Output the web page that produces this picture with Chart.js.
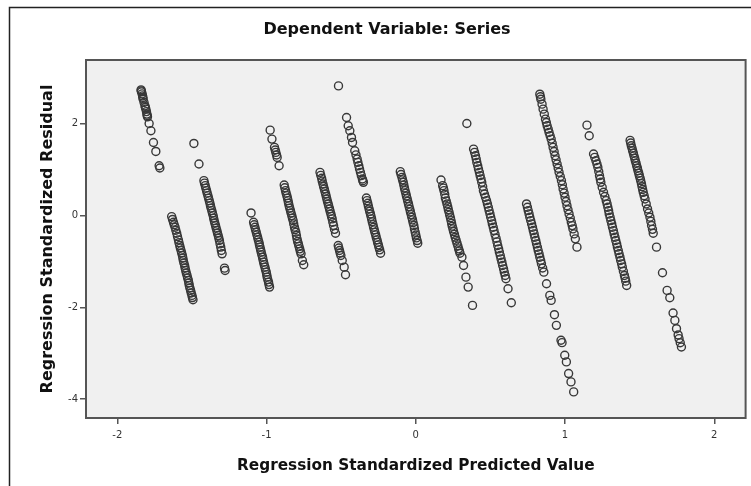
<!DOCTYPE html>
<html><head><meta charset="utf-8">
<script src="https://cdn.jsdelivr.net/npm/chart.js@4.4.0/dist/chart.umd.min.js"></script>
<style>html,body{margin:0;padding:0;background:#fff;overflow:hidden}canvas{display:block}</style>
</head><body>
<canvas id="c" width="751" height="486"></canvas>
<script>
const chartTitle = "Dependent Variable: Series";
const xAxisTitle = "Regression Standardized Predicted Value";
const yAxisTitle = "Regression Standardized Residual";
const xTicks = [-2, -1, 0, 1, 2];
const yTicks = [-4, -2, 0, 2];

// [standardized predicted, standardized residual]
const band01 = [[-1.841,2.74],[-1.838,2.696],[-1.831,2.609],[-1.827,2.537],[-1.815,2.391],[-1.809,2.32],[-1.802,2.211],[-1.798,2.152],[-1.787,2.007],[-1.775,1.848],[-1.758,1.593],[-1.742,1.398],[-1.72,1.087],[-1.715,1.037],
  [-1.84,2.718],[-1.834,2.652],[-1.829,2.573],[-1.821,2.464],[-1.812,2.356],[-1.805,2.266],[-1.8,2.18]];
const band02 = [[-1.636,-0.022],[-1.624,-0.145],[-1.613,-0.254],[-1.602,-0.384],[-1.591,-0.529],[-1.582,-0.652],[-1.573,-0.761],[-1.564,-0.87],[-1.558,-0.978],[-1.549,-1.087],[-1.542,-1.196],[-1.533,-1.304],[-1.524,-1.413],[-1.518,-1.522],[-1.509,-1.63],[-1.5,-1.739],[-1.493,-1.833],
  [-1.63,-0.084],[-1.619,-0.2],[-1.608,-0.319],[-1.597,-0.457],[-1.587,-0.59],[-1.578,-0.707],[-1.569,-0.816],[-1.561,-0.924],[-1.554,-1.033],[-1.546,-1.142],[-1.538,-1.25],[-1.529,-1.359],[-1.521,-1.468],[-1.514,-1.576],[-1.505,-1.685],[-1.497,-1.786]];
const band03 = [[-1.487,1.572],[-1.453,1.123],[-1.42,0.761],[-1.411,0.652],[-1.402,0.543],[-1.393,0.435],[-1.384,0.326],[-1.376,0.217],[-1.367,0.109],[-1.358,0],[-1.351,-0.109],[-1.342,-0.217],[-1.333,-0.326],[-1.324,-0.435],[-1.316,-0.543],[-1.307,-0.688],[-1.298,-0.833],[-1.282,-1.145],[-1.278,-1.196],
  [-1.416,0.707],[-1.407,0.598],[-1.398,0.489],[-1.389,0.381],[-1.38,0.272],[-1.372,0.163],[-1.363,0.055],[-1.355,-0.055],[-1.347,-0.163],[-1.338,-0.272],[-1.329,-0.381],[-1.32,-0.489],[-1.312,-0.616],[-1.303,-0.761]];
const band04 = [[-1.104,0.058],[-1.087,-0.145],[-1.078,-0.254],[-1.069,-0.362],[-1.06,-0.471],[-1.051,-0.58],[-1.044,-0.688],[-1.036,-0.797],[-1.027,-0.906],[-1.02,-1.014],[-1.011,-1.123],[-1.002,-1.232],[-0.996,-1.341],[-0.987,-1.449],[-0.98,-1.558],
  [-1.083,-0.2],[-1.074,-0.308],[-1.065,-0.417],[-1.056,-0.526],[-1.048,-0.634],[-1.04,-0.743],[-1.032,-0.852],[-1.024,-0.96],[-1.016,-1.069],[-1.007,-1.178],[-0.999,-1.287],[-0.992,-1.395],[-0.984,-1.504]];
const band05 = [[-0.976,1.862],[-0.964,1.667],[-0.947,1.486],[-0.938,1.377],[-0.929,1.268],[-0.916,1.087],[-0.942,1.43],[-0.933,1.32]];
const band06 = [[-0.882,0.667],[-0.873,0.543],[-0.864,0.435],[-0.856,0.326],[-0.849,0.217],[-0.84,0.109],[-0.831,0],[-0.822,-0.109],[-0.813,-0.254],[-0.804,-0.362],[-0.796,-0.507],[-0.787,-0.616],[-0.778,-0.725],[-0.769,-0.833],[-0.76,-0.978],[-0.751,-1.072],
  [-0.878,0.605],[-0.869,0.489],[-0.86,0.381],[-0.853,0.272],[-0.845,0.163],[-0.836,0.055],[-0.827,-0.055],[-0.818,-0.181],[-0.809,-0.308],[-0.8,-0.435],[-0.792,-0.562],[-0.783,-0.67],[-0.774,-0.779]];
const band07 = [[-0.642,0.942],[-0.631,0.812],[-0.622,0.688],[-0.613,0.58],[-0.604,0.471],[-0.596,0.362],[-0.587,0.254],[-0.578,0.145],[-0.569,0.036],[-0.56,-0.072],[-0.551,-0.217],[-0.538,-0.384],
  [-0.637,0.877],[-0.627,0.75],[-0.618,0.634],[-0.609,0.526],[-0.6,0.417],[-0.592,0.308],[-0.583,0.2],[-0.574,0.091],[-0.565,-0.018],[-0.556,-0.145],[-0.545,-0.3]];
const band08 = [[-0.52,-0.652],[-0.511,-0.761],[-0.502,-0.87],[-0.493,-0.978],[-0.48,-1.123],[-0.471,-1.29],[-0.516,-0.707],[-0.507,-0.816]];
const band09 = [[-0.518,2.826],[-0.464,2.138],[-0.453,1.957],[-0.442,1.848],[-0.431,1.703],[-0.424,1.594],[-0.409,1.413],[-0.393,1.232],[-0.382,1.087],[-0.371,0.942],[-0.358,0.797],[-0.351,0.725],
  [-0.401,1.323],[-0.388,1.16],[-0.377,1.015],[-0.365,0.87],[-0.355,0.761]];
const band10 = [[-0.331,0.384],[-0.322,0.268],[-0.313,0.145],[-0.304,0.036],[-0.296,-0.072],[-0.287,-0.196],[-0.278,-0.312],[-0.269,-0.42],[-0.26,-0.529],[-0.251,-0.638],[-0.242,-0.746],[-0.236,-0.819],
  [-0.327,0.326],[-0.318,0.207],[-0.309,0.091],[-0.3,-0.018],[-0.292,-0.134],[-0.283,-0.254],[-0.274,-0.366],[-0.265,-0.475],[-0.256,-0.584],[-0.247,-0.692]];
const band11 = [[-0.104,0.957],[-0.093,0.833],[-0.084,0.725],[-0.076,0.601],[-0.067,0.486],[-0.058,0.37],[-0.049,0.254],[-0.04,0.138],[-0.031,0.022],[-0.022,-0.094],[-0.013,-0.217],[-0.004,-0.362],[0.004,-0.486],[0.013,-0.601],
  [-0.099,0.895],[-0.089,0.779],[-0.08,0.663],[-0.072,0.544],[-0.063,0.428],[-0.054,0.312],[-0.045,0.196],[-0.036,0.08],[-0.027,-0.036],[-0.018,-0.156],[-0.009,-0.29],[0,-0.424],[0.009,-0.544]];
const band12 = [[0.169,0.775],[0.18,0.652],[0.189,0.543],[0.198,0.384],[0.209,0.254],[0.218,0.13],[0.227,0.014],[0.236,-0.109],[0.244,-0.232],[0.253,-0.348],[0.264,-0.471],[0.276,-0.601],[0.287,-0.725],[0.296,-0.819],[0.309,-0.906],[0.32,-1.087],[0.336,-1.341],[0.351,-1.558],[0.38,-1.957],
  [0.185,0.598],[0.194,0.464],[0.204,0.319],[0.214,0.192],[0.223,0.072],[0.232,-0.048],[0.24,-0.17],[0.249,-0.29],[0.259,-0.41],[0.27,-0.536],[0.282,-0.663],[0.292,-0.772]];
const band13 = [[0.342,2.007],[0.387,1.449],[0.4,1.304],[0.409,1.159],[0.42,1.014],[0.431,0.87],[0.442,0.725],[0.453,0.543],[0.467,0.399],[0.48,0.254],[0.491,0.109],[0.502,-0.036],[0.513,-0.181],[0.524,-0.326],[0.538,-0.493],[0.549,-0.652],[0.56,-0.797],[0.571,-0.942],[0.582,-1.087],[0.593,-1.232],[0.604,-1.377],[0.618,-1.594],[0.64,-1.899],
  [0.394,1.377],[0.405,1.232],[0.415,1.087],[0.426,0.942],[0.437,0.798],[0.448,0.634],[0.46,0.471],[0.474,0.327],[0.486,0.182],[0.497,0.037],[0.508,-0.109],[0.519,-0.254],[0.531,-0.41],[0.544,-0.573],[0.555,-0.725],[0.566,-0.87],[0.577,-1.015],[0.588,-1.16],[0.599,-1.305]];
const band14 = [[0.742,0.254],[0.753,0.109],[0.764,-0.036],[0.776,-0.181],[0.787,-0.326],[0.798,-0.471],[0.809,-0.616],[0.82,-0.761],[0.831,-0.906],[0.842,-1.051],[0.858,-1.232],[0.876,-1.486],[0.898,-1.739],[0.907,-1.848],[0.929,-2.159],[0.942,-2.391],[0.973,-2.717],[0.98,-2.768],[0.998,-3.043],[1.009,-3.188],[1.024,-3.442],[1.04,-3.623],[1.058,-3.841],
  [0.748,0.182],[0.759,0.037],[0.77,-0.109],[0.782,-0.254],[0.793,-0.399],[0.804,-0.544],[0.815,-0.689],[0.826,-0.834],[0.837,-0.979],[0.85,-1.142]];
const band15 = [[0.831,2.645],[0.838,2.536],[0.853,2.319],[0.869,2.101],[0.88,1.957],[0.893,1.812],[0.907,1.667],[0.92,1.486],[0.933,1.304],[0.947,1.123],[0.96,0.942],[0.976,0.761],[0.987,0.58],[1.0,0.399],[1.013,0.217],[1.027,0.036],[1.042,-0.145],[1.053,-0.29],[1.069,-0.507],[1.08,-0.688],
  [0.835,2.59],[0.846,2.428],[0.861,2.21],[0.875,2.029],[0.887,1.885],[0.9,1.74],[0.914,1.577],[0.927,1.395],[0.94,1.214],[0.954,1.033],[0.968,0.852],[0.982,0.671],[0.994,0.49],[1.007,0.308],[1.02,0.127],[1.035,-0.055],[1.048,-0.218],[1.061,-0.399]];
const band16 = [[1.147,1.971],[1.162,1.739],[1.191,1.341],[1.207,1.196],[1.22,1.051],[1.231,0.87],[1.24,0.725],[1.258,0.507],[1.276,0.326],[1.287,0.181],[1.296,0.036],[1.307,-0.109],[1.318,-0.254],[1.329,-0.399],[1.34,-0.543],[1.351,-0.688],[1.362,-0.833],[1.373,-0.978],[1.384,-1.123],[1.398,-1.304],[1.407,-1.428],[1.413,-1.522],
  [1.199,1.269],[1.214,1.124],[1.226,0.961],[1.236,0.798],[1.249,0.616],[1.267,0.417],[1.282,0.254],[1.292,0.109],[1.302,-0.037],[1.313,-0.182],[1.324,-0.327],[1.335,-0.471],[1.346,-0.616],[1.357,-0.761],[1.368,-0.906],[1.379,-1.051],[1.391,-1.214],[1.403,-1.366]];
const band17 = [[1.436,1.638],[1.444,1.522],[1.453,1.413],[1.462,1.304],[1.471,1.196],[1.48,1.087],[1.489,0.978],[1.498,0.87],[1.507,0.761],[1.516,0.63],[1.524,0.507],[1.536,0.362],[1.553,0.145],[1.569,-0.036],[1.58,-0.217],[1.591,-0.384],[1.613,-0.688],[1.653,-1.246],[1.684,-1.63],[1.702,-1.79],[1.724,-2.123],[1.736,-2.283],[1.747,-2.464],[1.764,-2.681],[1.78,-2.862],
  [1.44,1.58],[1.449,1.468],[1.458,1.359],[1.467,1.25],[1.476,1.142],[1.485,1.033],[1.494,0.924],[1.503,0.816],[1.512,0.696],[1.52,0.569],[1.53,0.435],[1.544,0.254],[1.561,0.055],[1.575,-0.127],[1.586,-0.3],[1.758,-2.6],[1.772,-2.77]];

const bands = [band01,band02,band03,band04,band05,band06,band07,band08,band09,band10,band11,band12,band13,band14,band15,band16,band17];
const points = bands.flat().map(p => ({x: p[0], y: p[1]}));

const framePlugin = {
  id: 'framePlugin',
  beforeDraw(chart) {
    const {ctx, chartArea: a} = chart;
    ctx.save();
    ctx.strokeStyle = '#222';
    ctx.lineWidth = 1.5;
    ctx.beginPath();
    ctx.moveTo(9.5, chart.height);
    ctx.lineTo(9.5, 7.5);
    ctx.lineTo(chart.width, 7.5);
    ctx.stroke();
    ctx.fillStyle = '#f0f0f0';
    ctx.fillRect(a.left, a.top, a.right - a.left, a.bottom - a.top);
    ctx.restore();
  },
  afterDraw(chart) {
    const {ctx, chartArea: a} = chart;
    ctx.save();
    ctx.strokeStyle = '#555';
    ctx.lineWidth = 2;
    ctx.strokeRect(a.left, a.top, a.right - a.left, a.bottom - a.top);
    ctx.restore();
  }
};

const tickFont = {family: 'DejaVu Sans', size: 10};
const titleFont = {family: 'DejaVu Sans', size: 16, weight: 'bold'};
const xTitleFont = {family: 'DejaVu Sans', size: 15.3, weight: 'bold'};

new Chart(document.getElementById('c'), {
  type: 'scatter',
  data: {datasets: [{
    data: points,
    pointStyle: 'circle',
    pointRadius: 4,
    borderWidth: 1.4,
    borderColor: '#383838',
    backgroundColor: 'rgba(0,0,0,0)'
  }]},
  options: {
    responsive: false,
    animation: false,
    devicePixelRatio: 1,
    layout: {padding: {left: 25, right: 2, top: 0, bottom: 0}},
    plugins: {
      legend: {display: false},
      tooltip: {enabled: false},
      title: {display: true, text: chartTitle, color: '#111', font: titleFont, padding: {top: 20, bottom: 20.8}}
    },
    scales: {
      x: {
        type: 'linear', min: -2.21, max: 2.21,
        afterBuildTicks: s => { s.ticks = xTicks.map(v => ({value: v})); },
        afterFit: s => { s.height = 68; },
        grid: {drawOnChartArea: false, drawTicks: true, tickLength: 6, color: '#555', lineWidth: 1.5},
        border: {display: false},
        ticks: {color: '#333', font: tickFont, padding: 5, maxRotation: 0},
        title: {display: true, text: xAxisTitle, color: '#111', font: xTitleFont, padding: {top: 0, bottom: 10.8}}
      },
      y: {
        type: 'linear', min: -4.41, max: 3.39,
        afterBuildTicks: s => { s.ticks = yTicks.map(v => ({value: v})); },
        afterFit: s => { s.width = 61; },
        grid: {drawOnChartArea: false, drawTicks: true, tickLength: 6, color: '#555', lineWidth: 1.5},
        border: {display: false},
        ticks: {color: '#333', font: tickFont, padding: 2},
        title: {display: true, text: yAxisTitle, color: '#111', font: titleFont, padding: {top: 13.4, bottom: 0}}
      }
    }
  },
  plugins: [framePlugin]
});
</script>
</body></html>
